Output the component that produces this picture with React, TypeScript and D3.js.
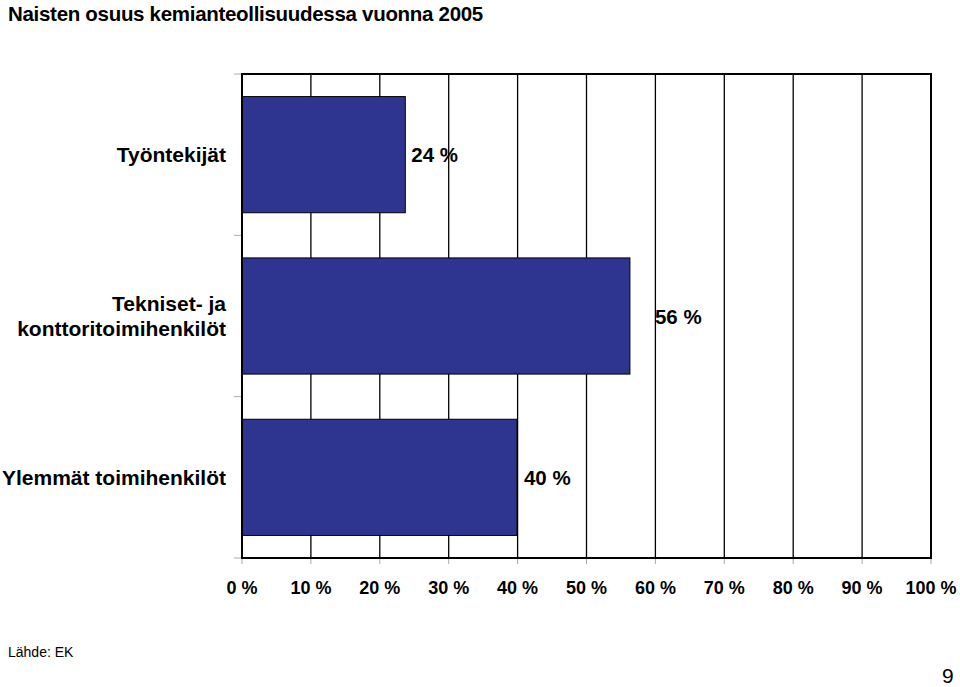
import React from "react";
import * as d3 from "d3";

const categories: string[][] = [
  ["Työntekijät"],
  ["Tekniset- ja", "konttoritoimihenkilöt"],
  ["Ylemmät toimihenkilöt"],
];
const values: number[] = [23.7, 56.3, 39.9];
const valueLabels: string[] = ["24 %", "56 %", "40 %"];
const tickValues: number[] = [0, 10, 20, 30, 40, 50, 60, 70, 80, 90, 100];
const tickLabels: string[] = tickValues.map((t) => `${t} %`);
const title = "Naisten osuus kemianteollisuudessa vuonna 2005";
const source = "Lähde: EK";
const pageNumber = "9";

const W = 960;
const H = 687;
const FONT = "'Liberation Sans', Arial, Helvetica, sans-serif";
const BAR_COLOR = "#2e3590";
const labelShift = [6, 25, 7];

export default function App() {
  const x = d3.scaleLinear().domain([0, 100]).range([242, 931]);
  const y = d3
    .scaleBand<number>()
    .domain(d3.range(categories.length))
    .range([74, 558])
    .paddingInner(0.28)
    .paddingOuter(0.14);
  const step = y.step();
  const slotTop = (i: number) => 74 + i * step;

  return (
    <svg
      width={W}
      height={H}
      style={{ position: "absolute", left: 0, top: 0, background: "#fff" }}
      fontFamily={FONT}
    >
      <rect x={0} y={0} width={W} height={H} fill="#fff" />
      <text x={8} y={20.5} fontSize={20.5} fontWeight="bold" letterSpacing={-0.3} fill="#000">
        {title}
      </text>

      {/* gridlines */}
      {tickValues.slice(1, -1).map((t) => (
        <line key={t} x1={x(t)} x2={x(t)} y1={74} y2={558} stroke="#000" strokeWidth={1.3} />
      ))}
      {/* left ticks */}
      {d3.range(categories.length + 1).map((i) => (
        <line key={i} x1={234} x2={242} y1={slotTop(i)} y2={slotTop(i)} stroke="#aaa" strokeWidth={1} />
      ))}
      {/* bottom ticks */}
      {tickValues.map((t) => (
        <line key={t} x1={x(t)} x2={x(t)} y1={558} y2={564} stroke="#aaa" strokeWidth={1} />
      ))}

      {/* bars */}
      {values.map((v, i) => (
        <rect
          key={i}
          x={x(0)}
          y={y(i)!}
          width={x(v) - x(0)}
          height={y.bandwidth()}
          fill={BAR_COLOR}
          stroke="#000"
          strokeWidth={1}
        />
      ))}

      {/* border lines */}
      <line x1={x(0)} x2={x(100)} y1={74} y2={74} stroke="#000" strokeWidth={2} />
      <line x1={x(100)} x2={x(100)} y1={73} y2={559} stroke="#000" strokeWidth={2} />
      <line x1={x(0)} x2={x(0)} y1={73} y2={559} stroke="#000" strokeWidth={2} />
      <line x1={x(0)} x2={x(100)} y1={558} y2={558} stroke="#000" strokeWidth={2} />

      {/* value labels */}
      {values.map((v, i) => (
        <text
          key={i}
          x={x(v) + labelShift[i]}
          y={y(i)! + y.bandwidth() / 2 + 7.5}
          fontSize={20.5}
          fontWeight="bold"
          fill="#000"
        >
          {valueLabels[i]}
        </text>
      ))}

      {/* category labels */}
      {categories.map((lines, i) => {
        const cy = y(i)! + y.bandwidth() / 2;
        const n = lines.length;
        return (
          <text key={i} textAnchor="end" fontSize={21} fontWeight="bold" fill="#000">
            {lines.map((l, j) => (
              <tspan key={j} x={226} y={cy + 7.5 + (j - (n - 1) / 2) * 25}>
                {l}
              </tspan>
            ))}
          </text>
        );
      })}

      {/* x tick labels */}
      {tickValues.map((t, i) => (
        <text key={t} x={x(t)} y={594} textAnchor="middle" fontSize={18} fontWeight="bold" fill="#000">
          {tickLabels[i]}
        </text>
      ))}

      <text x={8} y={657} fontSize={14} fill="#000">
        {source}
      </text>
      <text x={942} y={683} fontSize={21} fill="#000">
        {pageNumber}
      </text>
    </svg>
  );
}
